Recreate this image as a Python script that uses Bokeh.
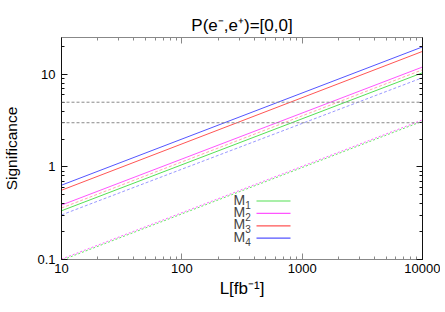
from bokeh.plotting import figure
from bokeh.models import LogAxis, LogTicker, Span, Label, Arrow, Range1d, CustomJSTickFormatter
from bokeh.embed import file_html
from bokeh.resources import INLINE

# Data (luminosity in fb^-1, significance)
L = [10, 10000]
m1_solid = [0.336, 10.4]
m2_solid = [0.387, 12.0]
m3_solid = [0.56, 17.7]
m4_solid = [0.635, 19.8]
m3_dashed = [0.36, 11.2]
m4_dashed = [0.303, 9.2]
m1_dotted = [0.098, 3.12]
m2_dotted = [0.101, 3.22]
thresholds = [3, 5]
legend_labels = ["1", "2", "3", "4"]
title_text = "P(e\u207b,e\u207a)=[0,0]"
x_label = "L[fb\u207b\u00b9]"
y_label = "Significance"

colors = {"M1": "#55e055", "M2": "#ff55ff", "M3": "#ff5555", "M4": "#5555ff"}

FONT = "Liberation Sans"

p = figure(width=440, height=304, x_axis_type="log", y_axis_type="log",
           x_range=Range1d(10, 10000), y_range=Range1d(0.1, 25),
           output_backend="svg", toolbar_location=None,
           min_border_left=60, min_border_right=18, min_border_top=37,
           min_border_bottom=45)
p.grid.visible = False
p.outline_line_color = None
p.background_fill_color = "white"
p.border_fill_color = "white"

p.title.text = title_text
p.title.align = "center"
p.title.text_font = FONT
p.title.text_font_size = "17px"
p.title.text_font_style = "normal"
p.title.text_color = "black"
p.title.standoff = 6

# series
p.line(L, m2_dotted, line_color=colors["M2"], line_width=1, line_dash="2 2", line_alpha=0.9)
p.line(L, m1_dotted, line_color=colors["M1"], line_width=1, line_dash="2 2", line_dash_offset=2, line_alpha=0.9)
p.line(L, m4_dashed, line_color=colors["M4"], line_width=1, line_dash="3 2", line_alpha=0.6)
p.line(L, m3_dashed, line_color=colors["M3"], line_width=1, line_dash="3 2", line_alpha=0.5)
p.line(L, m1_solid, line_color=colors["M1"], line_width=1)
p.line(L, m2_solid, line_color=colors["M2"], line_width=1)
p.line(L, m3_solid, line_color=colors["M3"], line_width=1)
p.line(L, m4_solid, line_color=colors["M4"], line_width=1)

for t in thresholds:
    p.add_layout(Span(location=t, dimension="width", line_color="#888888",
                      line_width=1, line_dash="3 2"))

fmt = CustomJSTickFormatter(code="return Number(tick.toPrecision(6)).toString();")

def style_axis(ax, color, labels=True):
    ax.axis_line_color = color
    ax.major_tick_line_color = color
    ax.minor_tick_line_color = color
    ax.major_tick_in = 6
    ax.major_tick_out = 0
    ax.minor_tick_in = 3
    ax.minor_tick_out = 0
    ax.ticker.num_minor_ticks = 10
    ax.formatter = fmt
    ax.major_label_text_font = FONT
    ax.major_label_text_font_size = "13px"
    ax.major_label_text_color = "black"
    ax.axis_label_text_font = FONT
    ax.axis_label_text_font_size = "15.5px"
    ax.axis_label_text_font_style = "normal"
    ax.axis_label_text_color = "black"
    if not labels:
        ax.major_label_text_font_size = "0px"
        ax.major_label_text_alpha = 0
        ax.major_label_standoff = 0

xa = p.xaxis[0]
ya = p.yaxis[0]
style_axis(xa, "#888888")
style_axis(ya, "#111111")
ya.axis_label = y_label
xa.axis_label = x_label
xa.axis_label_text_font_size = "17px"
xa.major_label_standoff = 4
xa.axis_label_standoff = 3
ya.major_label_standoff = 6
ya.axis_label_standoff = 14

top = LogAxis(ticker=LogTicker(num_minor_ticks=10))
style_axis(top, "#888888", labels=False)
right = LogAxis(ticker=LogTicker(num_minor_ticks=10))
style_axis(right, "#111111", labels=False)
p.add_layout(top, "above")
p.add_layout(right, "right")

# legend (label on the left, line sample on the right)
leg_colors = [colors["M1"], colors["M2"], colors["M3"], colors["M4"]]
for i, (lab, c) in enumerate(zip(legend_labels, leg_colors)):
    yc = 60 - i * 12.4
    p.add_layout(Label(x=172, y=yc, x_units="screen", y_units="screen", text="M",
                       text_font=FONT, text_font_size="14px", text_baseline="middle"))
    p.add_layout(Label(x=183.7, y=yc - 5, x_units="screen", y_units="screen", text=lab,
                       text_font=FONT, text_font_size="10px", text_baseline="middle"))
    yl = 58.5 - i * 12.4
    p.add_layout(Arrow(end=None, x_start=195, y_start=yl, x_end=229, y_end=yl,
                       start_units="screen", end_units="screen",
                       line_color=c, line_width=1.2))

open("out.html", "w").write(file_html(p, INLINE))
